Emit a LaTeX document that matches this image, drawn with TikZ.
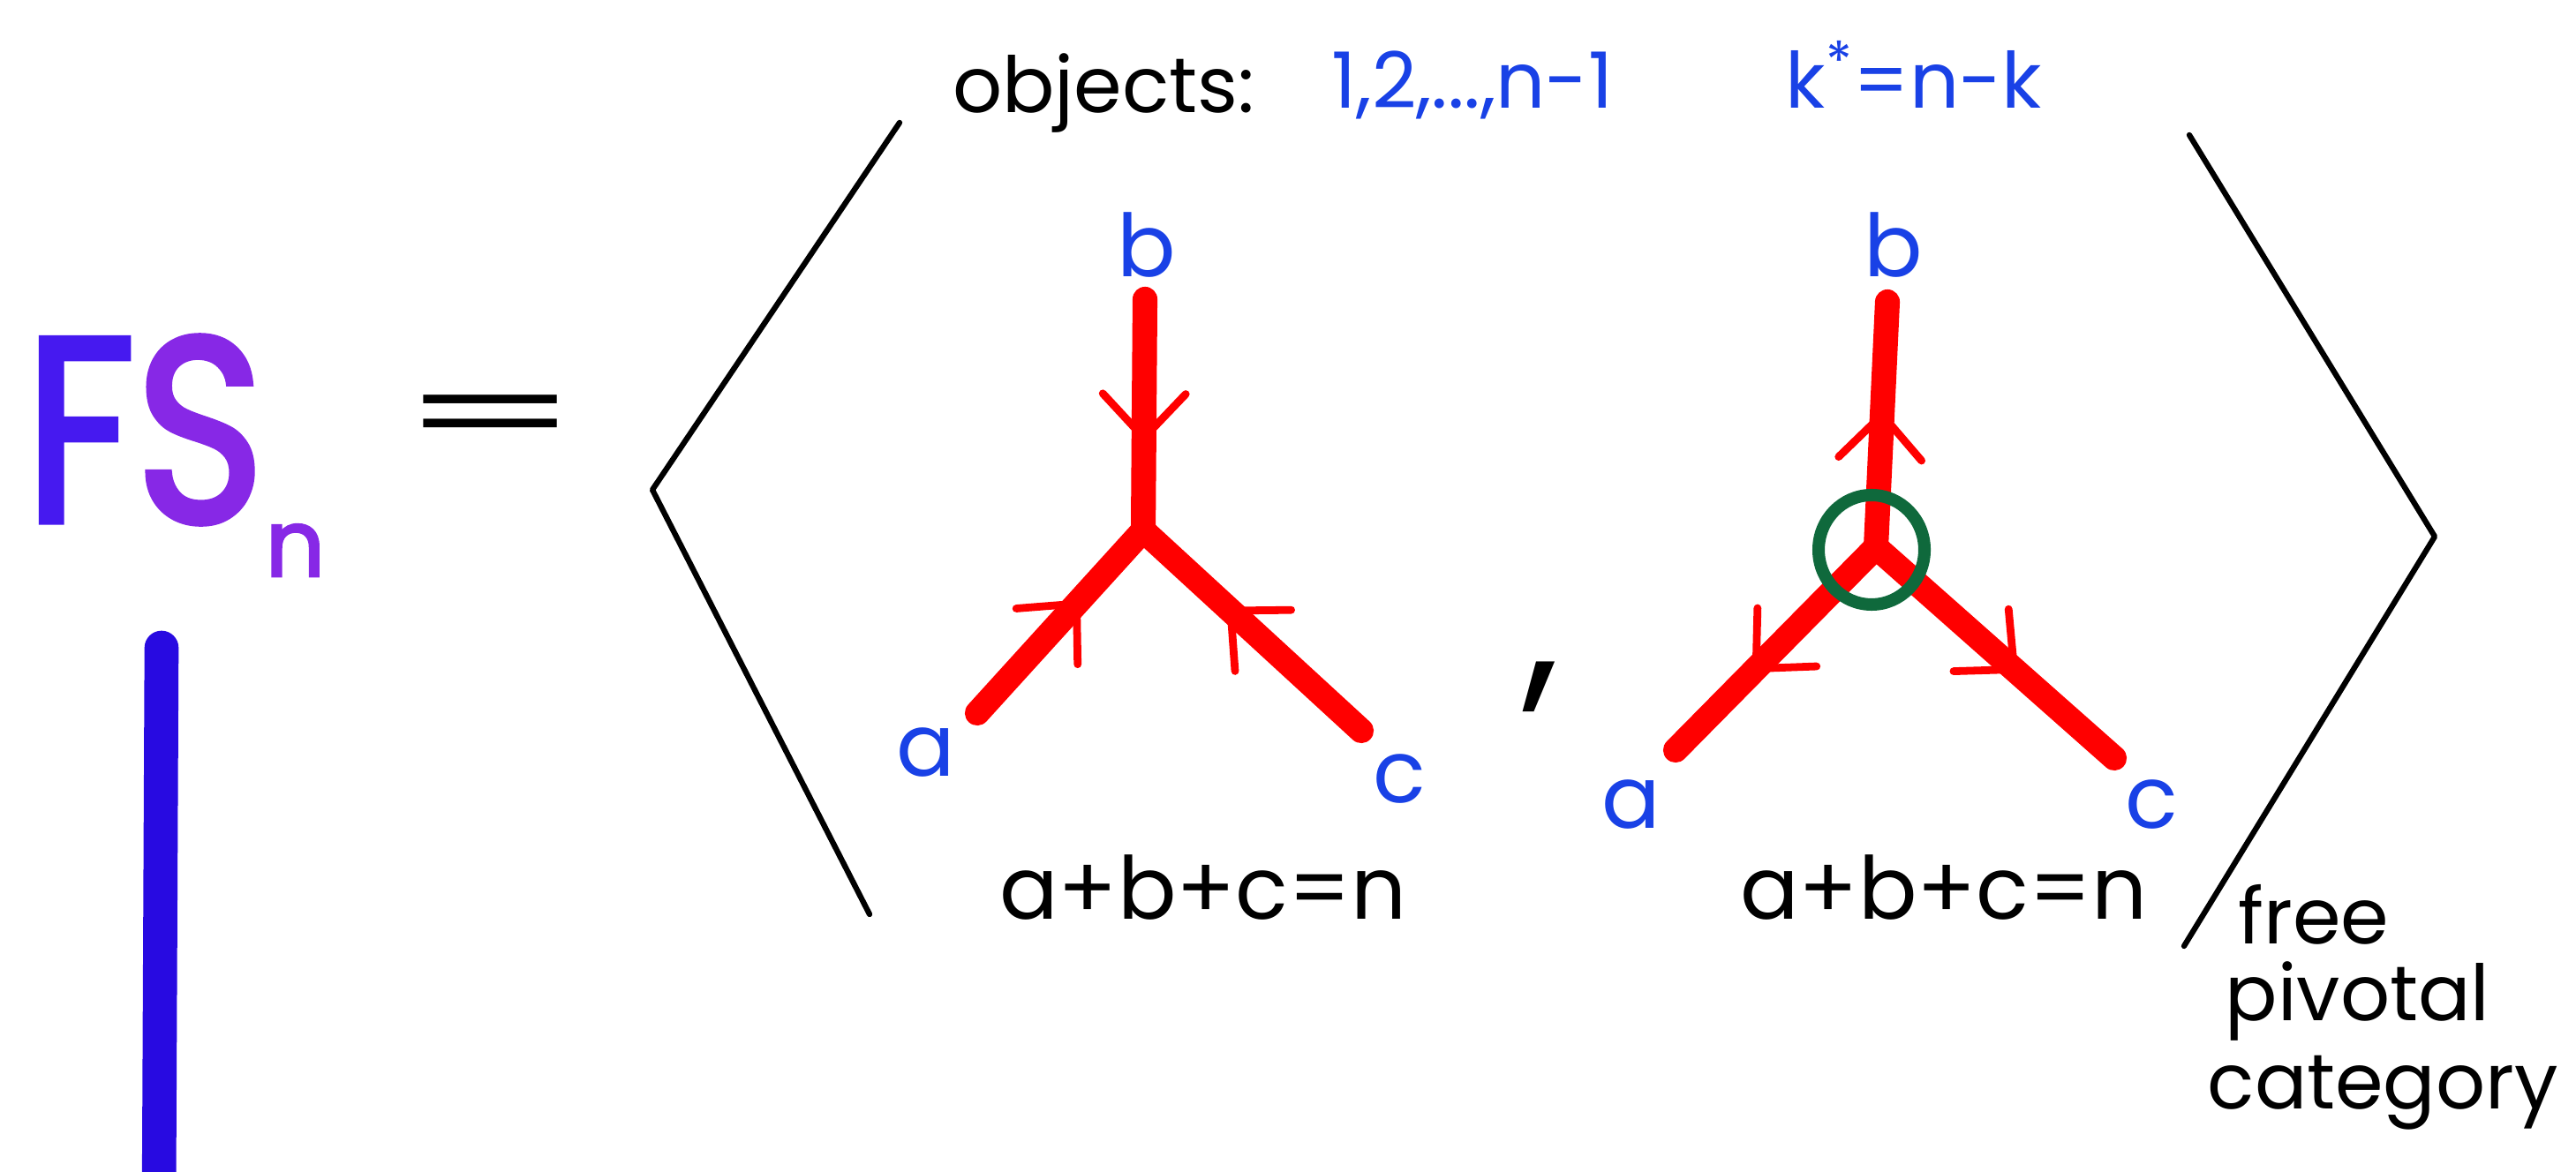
\documentclass[tikz,border=0pt]{standalone}
\usepackage{fontspec}
\setmainfont{Poppins}
\newfontfamily\fsfont[FakeBold=2.5]{Poppins}
\usepackage{xcolor}
\usepackage{tikz}
\usetikzlibrary{decorations.markings, calc}
\definecolor{fsblue}{RGB}{70,25,240}
\definecolor{fspurple}{RGB}{135,40,230}
\definecolor{barblue}{RGB}{40,10,225}
\definecolor{lblue}{RGB}{25,65,230}
\definecolor{pivgreen}{RGB}{15,105,60}
\tikzset{strand/.style={red, line width=8pt, line cap=round},
  midvee/.style={postaction={decorate, decoration={markings,
    mark=at position #1 with {\draw[red, line width=2.5pt, line cap=round] (-0.5,0.47) -- (0,0) -- (-0.5,-0.47);}}}},
  lbl/.style={text=lblue, font=\fontsize{28}{30}\selectfont, inner sep=0pt},
  hand/.style={font=\fontsize{25}{30}\selectfont, inner sep=0pt},
  bracket/.style={line width=1.8pt, line join=round, line cap=round}}

\begin{document}
\begin{tikzpicture}
\useasboundingbox (0,0) rectangle (29.18,13.28);
\node[inner sep=0pt, anchor=base west] (fs) at (0.27,7.37) {\resizebox{2.72cm}{2.1cm}{\fsfont\color{fsblue}F\color{fspurple}S}};
\node[inner sep=0pt, anchor=base west, text=fspurple, font=\fontsize{30}{30}\fsfont] (sub) at (3.0,6.75) {n};
\coordinate (bartop) at (1.83,5.94);
\coordinate (barbot) at (1.80,-0.5);
\draw[barblue, line width=11pt, line cap=round] (bartop) -- (barbot);
\node[inner sep=0pt, anchor=base, font=\fontsize{36}{36}\selectfont] (eq) at (5.56,8.15) {\scalebox{2.3}[1]{=}};

\coordinate (lt) at (10.19,11.89);
\coordinate (lm) at (7.39,7.73);
\coordinate (lbot) at (9.85,2.92);
\draw[bracket] (lt) -- (lm) -- (lbot);
\coordinate (rt) at (24.80,11.75);
\coordinate (rm) at (27.58,7.20);
\coordinate (rbot) at (24.74,2.56);
\draw[bracket] (rt) -- (rm) -- (rbot);

\node[hand, anchor=base] (objs) at (12.50,12.0) {objects:};
\node[hand, anchor=base, text=lblue] (objlist) at (16.68,12.05) {1,2,...,n-1};
\node[hand, anchor=base, text=lblue] (dual) at (21.68,12.05) {k\textsuperscript{*}=n-k};

\coordinate (lv) at (12.95,7.27);
\coordinate (lb) at (12.97,9.89);
\coordinate (la) at (11.07,5.20);
\coordinate (lc) at (15.42,5.00);
\draw[strand, midvee=0.6] (lb) -- (lv);
\draw[strand, midvee=0.6] (la) -- (lv);
\draw[strand, midvee=0.6] (lc) -- (lv);
\node[lbl] (lbname) at (12.99,10.5) {b};
\node[lbl] (laname) at (10.49,4.75) {a};
\node[lbl] (lcname) at (15.85,4.45) {c};
\node[hand, anchor=base, font=\fontsize{28}{30}\selectfont] (lsum) at (13.63,2.86) {a+b+c=n};

\node[inner sep=0pt, font=\fontsize{60}{60}\selectfont] (comma) at (17.46,5.5) {,};

\coordinate (rv) at (21.25,7.08);
\coordinate (rb) at (21.38,9.86);
\coordinate (ra) at (18.98,4.78);
\coordinate (rc) at (23.95,4.69);
\draw[strand, midvee=0.54] (rv) -- (rb);
\draw[strand, midvee=0.6] (rv) -- (ra);
\draw[strand, midvee=0.58] (rv) -- (rc);
\draw[pivgreen, line width=4pt] ($(rv)+(-0.05,-0.03)$) circle [x radius=0.6, y radius=0.62];
\node[lbl] (rbname) at (21.45,10.5) {b};
\node[lbl] (raname) at (18.48,4.16) {a};
\node[lbl] (rcname) at (24.37,4.16) {c};
\node[hand, anchor=base, font=\fontsize{28}{30}\selectfont] (rsum) at (22.02,2.86) {a+b+c=n};

\node[hand, anchor=base west] (free) at (25.35,2.58) {free};
\node[hand, anchor=base west] (pivotal) at (25.2,1.71) {pivotal};
\node[hand, anchor=base west] (category) at (25.0,0.71) {category};
\end{tikzpicture}
\end{document}
